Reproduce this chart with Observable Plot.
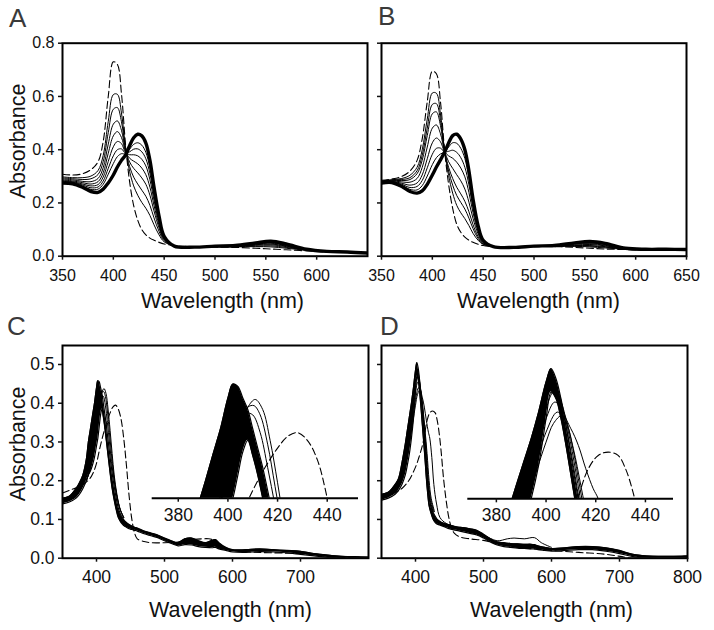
<!DOCTYPE html>
<html><head><meta charset="utf-8">
<script src="https://cdn.jsdelivr.net/npm/d3@7"></script>
<script src="https://cdn.jsdelivr.net/npm/@observablehq/plot@0.6"></script>
<style>
body{margin:0;background:#fff;}
#wrap{position:relative;width:714px;height:630px;overflow:hidden;font-family:"Liberation Sans",Arial,Helvetica,sans-serif;}
#wrap svg{position:absolute;left:0;top:0;}
.letter{position:absolute;font-size:26px;line-height:26px;color:#3a3a3a;}
</style></head><body><div id="wrap"></div>
<script>
// ---------- Panels A & B (shared wavelength grid) ----------
const wlAB = [350,360,370,378,385,390,395,400,404,408,412,416,420,424,428,432,436,440,445,450,460,480,500,520,540,555,570,590,610,630,650];
const aDashed = [0.308,0.305,0.31,0.325,0.355,0.43,0.60,0.73,0.72,0.61,0.42,0.28,0.19,0.135,0.10,0.08,0.068,0.06,0.052,0.046,0.04,0.036,0.034,0.033,0.03,0.027,0.024,0.02,0.016,0.014,0.012];
const aThick  = [0.275,0.272,0.258,0.243,0.240,0.252,0.275,0.305,0.335,0.36,0.38,0.415,0.445,0.458,0.452,0.425,0.36,0.26,0.15,0.075,0.038,0.034,0.038,0.04,0.05,0.056,0.046,0.026,0.018,0.016,0.012];
const aMix1 = [0.298,0.295,0.295,0.301,0.322,0.378,0.506,0.607,0.608,0.538,0.408,0.319,0.264,0.229,0.202,0.18,0.153,0.118,0.08,0.054,0.039,0.035,0.035,0.035,0.036,0.035,0.03,0.022,0.017,0.015,0.012];
const aMix2 = [0.294,0.291,0.288,0.291,0.307,0.355,0.464,0.552,0.558,0.505,0.403,0.337,0.297,0.271,0.248,0.225,0.191,0.144,0.093,0.058,0.039,0.035,0.036,0.036,0.038,0.039,0.033,0.023,0.017,0.015,0.012];
const aMix3 = [0.29,0.287,0.281,0.28,0.292,0.332,0.421,0.496,0.508,0.473,0.398,0.354,0.33,0.313,0.294,0.27,0.229,0.17,0.106,0.062,0.039,0.035,0.036,0.037,0.041,0.043,0.036,0.023,0.017,0.015,0.012];
const aMix4 = [0.286,0.283,0.276,0.271,0.28,0.313,0.387,0.452,0.468,0.446,0.394,0.368,0.357,0.347,0.331,0.306,0.259,0.191,0.116,0.065,0.039,0.035,0.037,0.038,0.043,0.046,0.038,0.024,0.017,0.015,0.012];
const aMix5 = [0.283,0.28,0.271,0.264,0.269,0.297,0.356,0.411,0.431,0.423,0.39,0.381,0.381,0.377,0.364,0.339,0.287,0.21,0.126,0.068,0.039,0.035,0.037,0.038,0.045,0.049,0.04,0.025,0.018,0.016,0.012];
const aMix6 = [0.281,0.278,0.267,0.257,0.26,0.282,0.33,0.377,0.4,0.403,0.387,0.392,0.402,0.403,0.392,0.366,0.31,0.226,0.133,0.07,0.038,0.034,0.037,0.039,0.047,0.051,0.042,0.025,0.018,0.016,0.012];
const aMix7 = [0.278,0.275,0.263,0.251,0.252,0.27,0.308,0.348,0.374,0.385,0.384,0.402,0.42,0.426,0.417,0.39,0.331,0.24,0.14,0.072,0.038,0.034,0.038,0.039,0.048,0.053,0.044,0.025,0.018,0.016,0.012];

const bDashed = [0.285,0.29,0.30,0.32,0.36,0.44,0.58,0.695,0.685,0.58,0.40,0.27,0.18,0.12,0.09,0.072,0.06,0.052,0.045,0.04,0.036,0.035,0.036,0.036,0.033,0.03,0.027,0.025,0.024,0.024,0.024];
const bThick  = [0.275,0.277,0.262,0.243,0.237,0.245,0.27,0.305,0.335,0.362,0.39,0.425,0.453,0.458,0.44,0.40,0.32,0.215,0.115,0.06,0.036,0.033,0.038,0.040,0.05,0.055,0.048,0.03,0.026,0.026,0.025];
const bMix1 = [0.283,0.287,0.292,0.304,0.334,0.399,0.515,0.613,0.612,0.534,0.398,0.303,0.237,0.191,0.163,0.141,0.115,0.086,0.06,0.044,0.036,0.035,0.036,0.037,0.037,0.035,0.031,0.026,0.024,0.024,0.024];
const bMix2 = [0.282,0.286,0.288,0.295,0.321,0.378,0.481,0.57,0.573,0.51,0.397,0.32,0.267,0.228,0.202,0.177,0.143,0.104,0.067,0.046,0.036,0.034,0.037,0.037,0.038,0.038,0.034,0.027,0.025,0.025,0.024];
const bMix3 = [0.281,0.285,0.284,0.288,0.31,0.36,0.453,0.535,0.542,0.491,0.396,0.334,0.292,0.259,0.234,0.206,0.167,0.119,0.074,0.048,0.036,0.034,0.037,0.038,0.04,0.04,0.036,0.027,0.025,0.025,0.024];
const bMix4 = [0.28,0.283,0.279,0.278,0.292,0.333,0.41,0.481,0.493,0.46,0.395,0.355,0.33,0.306,0.283,0.252,0.203,0.142,0.084,0.051,0.036,0.034,0.037,0.038,0.042,0.044,0.039,0.028,0.025,0.025,0.025];
const bMix5 = [0.278,0.281,0.274,0.267,0.275,0.305,0.366,0.426,0.444,0.43,0.393,0.377,0.368,0.353,0.331,0.298,0.239,0.164,0.093,0.054,0.036,0.034,0.037,0.039,0.045,0.047,0.041,0.028,0.025,0.025,0.025];
const bMix6 = [0.277,0.28,0.27,0.258,0.262,0.284,0.332,0.383,0.405,0.406,0.392,0.394,0.398,0.39,0.37,0.334,0.268,0.182,0.101,0.056,0.036,0.033,0.038,0.039,0.047,0.05,0.044,0.029,0.026,0.026,0.025];
const bMix7 = [0.276,0.278,0.266,0.251,0.249,0.265,0.301,0.344,0.37,0.384,0.391,0.41,0.426,0.424,0.405,0.367,0.294,0.199,0.108,0.058,0.036,0.033,0.038,0.04,0.049,0.053,0.046,0.03,0.026,0.026,0.025];

// ---------- Panels C & D (shared wavelength grid for the dense bundle) ----------
const wlCD = [350,360,370,375,380,385,388,391,394,397,400,402,404,406,408,410,412,414,416,418,420,423,426,429,432,435,438,441,444,448,452,456,460,470,480,490,500,510,520,530,540,550,560,570,575,580,590,600,620,640,660,680,700,720,740,760,780,800];
const cUpper = [0.155,0.16,0.18,0.195,0.215,0.255,0.30,0.333,0.367,0.40,0.44,0.458,0.455,0.44,0.425,0.40,0.375,0.35,0.32,0.29,0.26,0.22,0.185,0.155,0.13,0.115,0.105,0.097,0.092,0.087,0.083,0.08,0.078,0.07,0.065,0.06,0.052,0.045,0.04,0.05,0.052,0.045,0.04,0.046,0.048,0.04,0.028,0.022,0.022,0.024,0.022,0.02,0.018,0.012,0.008,0.005,0.004,0.003];
const cLower = [0.14,0.145,0.155,0.165,0.18,0.20,0.215,0.225,0.24,0.26,0.29,0.31,0.34,0.37,0.385,0.365,0.34,0.31,0.28,0.25,0.22,0.18,0.15,0.125,0.105,0.095,0.088,0.083,0.08,0.076,0.074,0.072,0.07,0.063,0.058,0.053,0.045,0.038,0.032,0.035,0.034,0.03,0.028,0.027,0.028,0.024,0.02,0.016,0.015,0.017,0.016,0.014,0.01,0.006,0.002,0.0,-0.002,-0.003];
const cThin1 = [[385,0.2],[390,0.225],[394,0.26],[398,0.315],[402,0.37],[405,0.405],[408,0.428],[411,0.438],[414,0.425],[417,0.385],[420,0.33],[423,0.27],[426,0.215],[430,0.165],[435,0.125],[440,0.105]];
const cThin2 = [[385,0.2],[390,0.228],[394,0.265],[398,0.32],[402,0.378],[405,0.41],[408,0.428],[410.5,0.43],[413,0.418],[416,0.38],[419,0.325],[422,0.27],[425,0.22],[429,0.17],[434,0.13],[440,0.105]];
const cThin3 = [[385,0.2],[390,0.23],[394,0.27],[398,0.33],[402,0.385],[405,0.41],[407.5,0.42],[410,0.418],[413,0.395],[416,0.35],[419,0.3],[422,0.25],[426,0.2],[430,0.16],[435,0.125],[440,0.105]];
const cDashed = [[350,0.168],[360,0.175],[370,0.182],[380,0.19],[390,0.205],[395,0.22],[400,0.245],[405,0.285],[410,0.32],[415,0.35],[420,0.375],[424,0.39],[428,0.395],[432,0.385],[436,0.36],[440,0.31],[444,0.24],[448,0.16],[452,0.1],[456,0.065],[460,0.05],[470,0.043],[480,0.04],[500,0.04],[520,0.042],[540,0.048],[555,0.05],[565,0.05],[575,0.045],[590,0.025],[600,0.02],[640,0.015],[680,0.013],[700,0.012],[740,0.005],[780,0.0],[800,-0.002]];

const dUpper = [0.165,0.17,0.19,0.205,0.245,0.295,0.33,0.365,0.40,0.44,0.485,0.505,0.49,0.46,0.42,0.375,0.33,0.285,0.235,0.19,0.16,0.13,0.118,0.108,0.10,0.096,0.093,0.091,0.089,0.087,0.085,0.083,0.081,0.079,0.076,0.072,0.062,0.05,0.042,0.04,0.038,0.037,0.036,0.036,0.035,0.032,0.028,0.025,0.027,0.03,0.03,0.027,0.02,0.01,0.006,0.005,0.005,0.006];
const dLower = [0.15,0.155,0.165,0.175,0.19,0.215,0.24,0.27,0.31,0.36,0.43,0.47,0.46,0.43,0.39,0.345,0.30,0.255,0.205,0.165,0.135,0.115,0.1,0.092,0.088,0.086,0.084,0.082,0.08,0.077,0.075,0.073,0.072,0.068,0.064,0.06,0.052,0.042,0.034,0.03,0.028,0.026,0.025,0.024,0.024,0.022,0.02,0.018,0.02,0.022,0.022,0.018,0.012,0.004,0.0,-0.001,-0.001,-0.001];
const dThin1 = [[380,0.225],[385,0.27],[390,0.32],[394,0.375],[397,0.415],[400,0.46],[402.5,0.485],[405,0.47],[408,0.42],[411,0.36],[414,0.29],[417,0.21],[420,0.155],[425,0.12]];
const dThin2 = [[380,0.22],[385,0.265],[390,0.31],[394,0.36],[397,0.405],[400,0.445],[403,0.47],[406,0.455],[409,0.41],[412,0.35],[415,0.28],[418,0.205],[421,0.155],[426,0.12]];
const dThin3 = [[380,0.215],[385,0.255],[390,0.3],[394,0.35],[397,0.39],[400,0.43],[403.5,0.455],[407,0.44],[410,0.40],[413,0.34],[416,0.275],[419,0.2],[422,0.155],[427,0.12]];
const dThin4 = [[380,0.21],[385,0.25],[390,0.29],[394,0.335],[397,0.375],[400,0.41],[404.5,0.44],[408,0.425],[411,0.385],[414,0.33],[417,0.27],[420,0.2],[423,0.155],[428,0.12]];
const dThin5 = [[370,0.18],[380,0.205],[386,0.245],[390,0.285],[393,0.315],[396,0.35],[400,0.395],[403,0.423],[406.5,0.435],[410,0.415],[413,0.39],[416,0.355],[419,0.325],[421,0.31],[424,0.26],[427,0.19],[431,0.14],[436,0.105],[445,0.09],[460,0.08],[480,0.075],[500,0.06],[520,0.045],[535,0.05],[545,0.052],[560,0.05],[575,0.053],[585,0.04],[600,0.028]];
const dDashed = [[350,0.16],[360,0.165],[370,0.17],[380,0.18],[390,0.2],[400,0.235],[405,0.26],[410,0.29],[413,0.315],[417,0.355],[421,0.375],[425,0.38],[429,0.375],[432,0.355],[435,0.32],[438,0.27],[441,0.21],[445,0.15],[449,0.105],[453,0.078],[457,0.065],[465,0.055],[480,0.05],[500,0.046],[520,0.038],[550,0.028],[575,0.024],[600,0.02],[640,0.015],[680,0.01],[720,0.0],[760,-0.002],[800,0.0]];

// ---------- ticks & text ----------
const ticksXA = [350,400,450,500,550,600];
const ticksXB = [350,400,450,500,550,600,650];
const ticksXC = [400,500,600,700];
const ticksXD = [400,500,600,700,800];
const ticksYAB = [0,0.2,0.4,0.6,0.8];
const ticksYCD = [0,0.1,0.2,0.3,0.4,0.5];
const ticksInset = [380,400,420,440];
const panelLetters = ["A","B","C","D"];
const xTitle = "Wavelength (nm)";
const yTitle = "Absorbance";

// ---------- helpers ----------
const FONT = '"Liberation Sans", Arial, Helvetica, sans-serif';
const rows = (wl, vals) => wl.map((w, i) => ({w, v: vals[i]}));
const prs = (p) => p.map(([w, v]) => ({w, v}));
const band = (wl, lo, hi) => wl.map((w, i) => ({w, lo: lo[i], hi: hi[i]}));
const base = {x: "w", y: "v", curve: "catmull-rom", clip: true, stroke: "black"};
const thin = (data) => Plot.line(data, {...base, strokeWidth: 1});
const dashed = (data) => Plot.line(data, {...base, strokeWidth: 1.1, strokeDasharray: "7,3.5"});
const bandMarks = (data) => [
  Plot.areaY(data, {x: "w", y1: "lo", y2: "hi", fill: "black", curve: "catmull-rom", clip: true}),
  Plot.line(data, {x: "w", y: "hi", curve: "catmull-rom", clip: true, stroke: "black", strokeWidth: 1.2}),
  Plot.line(data, {x: "w", y: "lo", curve: "catmull-rom", clip: true, stroke: "black", strokeWidth: 1.2})
];

function mainPanel(o) {
  return Plot.plot({
    width: 714, height: 630,
    marginLeft: o.x0, marginRight: 714 - o.x1, marginTop: o.y0, marginBottom: 630 - o.y1,
    x: {domain: o.xDomain, axis: null, label: null},
    y: {domain: o.yDomain, axis: null, label: null},
    style: {fontFamily: FONT, background: "transparent", color: "#111", overflow: "visible"},
    marks: [
      ...o.marks,
      Plot.frame({stroke: "black", strokeWidth: 2}),
      Plot.axisX(o.xTicks, {anchor: "bottom", tickSize: 4, tickPadding: o.xPad, fontSize: o.fs, strokeWidth: 1.5, label: null}),
      Plot.axisY(o.yTicks, {anchor: "left", tickSize: 4, tickPadding: 4, fontSize: o.fs, strokeWidth: 1.5, label: null,
        tickFormat: o.yLabels ? d3.format(".1f") : () => ""}),
      Plot.text([xTitle], {text: d => d, frameAnchor: "bottom", textAnchor: "middle", dx: o.xtDx, dy: o.xtDy, lineAnchor: "bottom", fontSize: 21.5, fill: "#111"}),
      o.yLabels ? Plot.text([yTitle], {text: d => d, frameAnchor: "left", textAnchor: "middle", lineAnchor: "middle", rotate: -90, dx: -44, dy: o.ytDy, fontSize: 21.5, fill: "#111"}) : null
    ]
  });
}

function insetPanel(o) {
  return Plot.plot({
    width: 714, height: 630,
    marginLeft: o.x0, marginRight: 714 - o.x1, marginTop: o.yTop, marginBottom: 630 - o.yBase,
    x: {domain: o.xDomain, axis: null, label: null},
    y: {domain: [0.31, 0.52], axis: null, label: null},
    style: {fontFamily: FONT, background: "transparent", color: "#111", overflow: "visible"},
    marks: [
      ...o.marks,
      Plot.ruleY([0.31], {stroke: "black", strokeWidth: 2}),
      Plot.axisX(ticksInset, {anchor: "bottom", tickSize: 4, tickPadding: 6, fontSize: 17.5, strokeWidth: 1.5, label: null})
    ]
  });
}

const wrap = document.getElementById("wrap");

const aMarks = [aMix1,aMix2,aMix3,aMix4,aMix5,aMix6,aMix7].map(m => thin(rows(wlAB, m)))
  .concat([Plot.line(rows(wlAB, aThick), {...base, strokeWidth: 3.4}), dashed(rows(wlAB, aDashed))]);
const bMarks = [bMix1,bMix2,bMix3,bMix4,bMix5,bMix6,bMix7].map(m => thin(rows(wlAB, m)))
  .concat([Plot.line(rows(wlAB, bThick), {...base, strokeWidth: 3.4}), dashed(rows(wlAB, bDashed))]);
const cBand = band(wlCD, cLower, cUpper);
const dBand = band(wlCD, dLower, dUpper);
const cMarks = [...bandMarks(cBand), thin(prs(cThin1)), thin(prs(cThin2)), thin(prs(cThin3)), dashed(prs(cDashed))];
const dMarks = [...bandMarks(dBand), thin(prs(dThin1)), thin(prs(dThin2)), thin(prs(dThin3)), thin(prs(dThin4)), thin(prs(dThin5)), dashed(prs(dDashed))];

wrap.append(mainPanel({x0: 62, y0: 42.7, x1: 367, y1: 255.7, xDomain: [350, 650], yDomain: [0, 0.8],
  xTicks: ticksXA, yTicks: ticksYAB, yLabels: true, fs: 16, xPad: 9, xtDx: 7.5, xtDy: 52, ytDy: -8.7, marks: aMarks}));
wrap.append(mainPanel({x0: 381, y0: 42.7, x1: 686, y1: 255.7, xDomain: [350, 650], yDomain: [0, 0.8],
  xTicks: ticksXB, yTicks: ticksYAB, yLabels: false, fs: 16, xPad: 9, xtDx: 4.5, xtDy: 52, marks: bMarks}));
wrap.append(mainPanel({x0: 62, y0: 345, x1: 368, y1: 557.7, xDomain: [350, 800], yDomain: [0, 0.549],
  xTicks: ticksXC, yTicks: ticksYCD, yLabels: true, fs: 17.5, xPad: 8, xtDx: 15, xtDy: 59, ytDy: -8, marks: cMarks}));
wrap.append(mainPanel({x0: 381, y0: 345, x1: 687, y1: 557.7, xDomain: [350, 800], yDomain: [0, 0.549],
  xTicks: ticksXD, yTicks: ticksYCD, yLabels: false, fs: 17.5, xPad: 8, xtDx: 17, xtDy: 59, marks: dMarks}));

wrap.append(insetPanel({x0: 151.7, x1: 358, yBase: 497.7, yTop: 335.7, xDomain: [369.5, 452.6], marks: cMarks}));
wrap.append(insetPanel({x0: 467.3, x1: 673, yBase: 498.3, yTop: 358.2, xDomain: [368.5, 451.3], marks: dMarks}));

const letterPos = [[9, 5], [378, 3], [7, 313], [380, 313]];
panelLetters.forEach((t, i) => {
  const d = document.createElement("div");
  d.className = "letter";
  d.textContent = t;
  d.style.left = letterPos[i][0] + "px";
  d.style.top = letterPos[i][1] + "px";
  wrap.append(d);
});
</script></body></html>
